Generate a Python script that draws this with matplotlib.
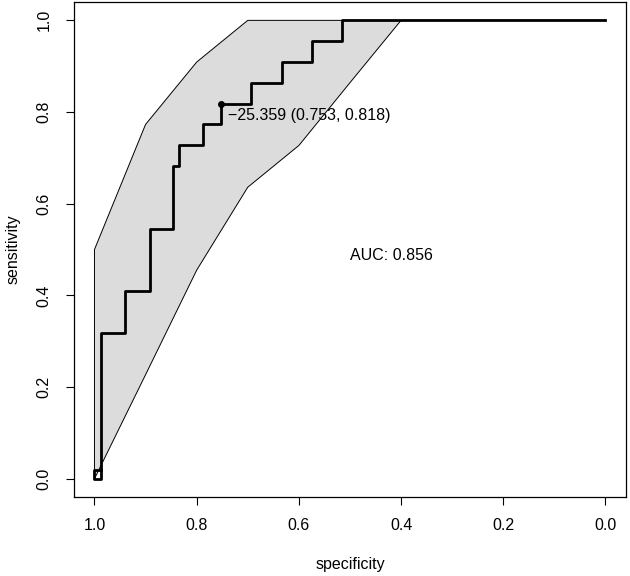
import matplotlib.pyplot as plt

# curva ROC (especificidade, sensibilidade)
spec = [0.988, 1.0, 1.0, 0.988, 0.988, 0.941, 0.941, 0.892, 0.892, 0.847, 0.847,
        0.835, 0.835, 0.788, 0.788, 0.753, 0.753, 0.694, 0.694, 0.633, 0.633,
        0.574, 0.574, 0.515, 0.515, 0.0]
sens = [0.02, 0.02, 0.0, 0.0, 0.318, 0.318, 0.409, 0.409, 0.545, 0.545, 0.682,
        0.682, 0.727, 0.727, 0.773, 0.773, 0.818, 0.818, 0.864, 0.864, 0.909,
        0.909, 0.955, 0.955, 1.0, 1.0]

# intervalo de confiança da sensibilidade
ci_spec = [1.0, 0.9, 0.8, 0.7, 0.6, 0.5, 0.4, 0.3, 0.2, 0.1, 0.0]
ci_upper = [0.5, 0.773, 0.909, 1.0, 1.0, 1.0, 1.0, 1.0, 1.0, 1.0, 1.0]
ci_lower = [0.0, 0.227, 0.455, 0.636, 0.727, 0.864, 1.0, 1.0, 1.0, 1.0, 1.0]

thres_spec = 0.753
thres_sens = 0.818
thres_label = "\u221225.359 (0.753, 0.818)"
auc_label = "AUC: 0.856"
ticks = [1.0, 0.8, 0.6, 0.4, 0.2, 0.0]

plt.rcParams['font.family'] = ['Liberation Sans', 'DejaVu Sans']
plt.rcParams['font.size'] = 11.5

fig = plt.figure(figsize=(6.3, 5.76), dpi=100)
ax = fig.add_axes([0.1175, 0.137, 0.876, 0.8595])

poly_x = ci_spec + ci_spec[::-1]
poly_y = ci_upper + ci_lower[::-1]
ax.fill(poly_x, poly_y, facecolor='#dcdcdc', edgecolor='black', linewidth=0.7)

ax.plot(spec, sens, color='black', linewidth=2)
ax.plot([thres_spec], [thres_sens], 'o', color='black', markersize=4)
ax.text(thres_spec - 0.015, thres_sens - 0.01, thres_label, ha='left', va='top')
ax.text(0.5, 0.488, auc_label, ha='left', va='center')

ax.set_xlim(1.04, -0.04)
ax.set_ylim(-0.04, 1.04)
ax.set_xticks(ticks)
ax.set_yticks(ticks)
ax.set_xticklabels(["%.1f" % t for t in ticks])
ax.set_yticklabels(["%.1f" % t for t in ticks], rotation=90, va='center')
ax.tick_params(axis='x', direction='out', length=6, width=0.8, pad=9)
ax.tick_params(axis='y', direction='out', length=6, width=0.8, pad=10)
for s in ax.spines.values():
    s.set_linewidth(0.9)

ax.set_xlabel("specificity", labelpad=17)
ax.set_ylabel("sensitivity", labelpad=12)

fig.savefig("out.png", dpi=100)
